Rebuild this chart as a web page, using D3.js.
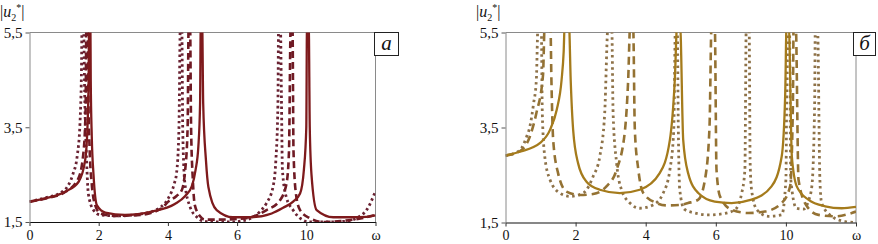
<!DOCTYPE html>
<html>
<head>
<meta charset="utf-8">
<script src="https://cdn.jsdelivr.net/npm/d3@7"></script>
<style>
  body { margin: 0; background: #fff; }
  svg { display: block; }
  svg text { font-family: "Liberation Serif", "Times New Roman", Times, "DejaVu Serif", serif; }
</style>
</head>
<body>
<div id="chart"></div>
<script>
// axis ticks (the 5th label reads "10" in the original)
const xTicks = [0, 2, 4, 6, 8, 10];
const xTickLabels = ['0', '2', '4', '6', '10', 'ω'];
const yTicks = [1.5, 3.5, 5.5];
const yTickLabels = ['1,5', '3,5', '5,5'];

// panel a series, [omega, |u2*|]
const aSolid = [[0,1.93],[0.45,2.0],[1.03,2.14],[1.42,2.35],[1.61,2.81],[1.68,3.6],[1.71,4.6],[1.72,5.7],[1.76,5.7],[1.77,4.5],[1.8,3.3],[1.85,2.5],[1.95,1.85],[2.19,1.7],[2.76,1.65],[3.53,1.72],[4.2,1.88],[4.5,2.05],[4.69,2.25],[4.8,2.6],[4.88,3.09],[4.93,4.0],[4.95,5.7],[4.99,5.7],[5.02,4.0],[5.1,2.8],[5.17,2.24],[5.41,1.75],[5.88,1.6],[6.4,1.6],[7.0,1.68],[7.33,1.8],[7.62,1.93],[7.82,2.1],[7.93,2.6],[8.0,3.5],[8.02,5.7],[8.07,5.7],[8.1,3.5],[8.15,2.5],[8.3,1.75],[8.78,1.6],[9.3,1.6],[9.74,1.61],[10,1.64]];
const aDashed = [[0,1.93],[0.5,2.0],[1.0,2.12],[1.4,2.4],[1.55,2.9],[1.62,3.8],[1.645,5.7],[1.68,5.7],[1.7,4.2],[1.74,3.0],[1.8,2.3],[1.9,1.85],[2.05,1.68],[2.5,1.63],[3.2,1.65],[3.8,1.78],[4.01,1.93],[4.25,2.05],[4.4,2.17],[4.5,2.6],[4.57,3.5],[4.6,5.7],[4.64,5.7],[4.67,3.5],[4.72,2.4],[4.78,1.85],[4.93,1.62],[5.07,1.55],[5.4,1.55],[5.9,1.56],[6.4,1.6],[6.85,1.75],[7.24,1.96],[7.43,2.32],[7.5,3.0],[7.55,5.7],[7.6,5.7],[7.63,3.0],[7.7,2.1],[7.82,1.75],[8.1,1.58],[8.5,1.5],[9.0,1.52],[9.6,1.58],[10,1.65]];
const aDotted = [[0,1.93],[0.5,2.02],[0.9,2.12],[1.1,2.25],[1.25,2.5],[1.38,2.9],[1.46,3.6],[1.5,4.6],[1.52,5.7],[1.56,5.7],[1.6,4.0],[1.65,2.8],[1.7,2.1],[1.85,1.75],[2.04,1.65],[2.6,1.63],[3.3,1.68],[3.8,1.82],[4.01,2.0],[4.18,2.3],[4.25,2.53],[4.32,3.5],[4.36,5.7],[4.4,5.7],[4.43,3.4],[4.49,2.32],[4.64,1.82],[4.83,1.61],[5.02,1.52],[5.3,1.5],[5.8,1.5],[6.3,1.55],[6.66,1.72],[6.85,1.9],[7.04,2.25],[7.12,2.8],[7.18,4.0],[7.2,5.7],[7.25,5.7],[7.28,4.2],[7.31,2.6],[7.42,2.03],[7.62,1.75],[7.82,1.58],[8.1,1.5],[8.6,1.5],[9.2,1.52],[9.5,1.6],[9.74,1.75],[10,2.15]];

// panel b series
const bSolid = [[0,2.91],[0.41,2.99],[0.98,3.17],[1.27,3.45],[1.46,3.87],[1.6,4.5],[1.66,5.1],[1.69,5.7],[1.81,5.7],[1.86,4.5],[1.93,3.45],[2.07,2.75],[2.31,2.36],[2.69,2.19],[3.26,2.12],[3.83,2.19],[4.4,2.54],[4.69,3.24],[4.83,4.5],[4.9,5.7],[4.98,5.7],[5.07,3.24],[5.21,2.54],[5.5,2.12],[5.97,1.94],[6.45,1.91],[7.02,1.98],[7.59,2.26],[7.88,2.89],[7.98,4.2],[8.02,5.7],[8.08,5.7],[8.17,2.89],[8.31,2.26],[8.64,1.98],[9.12,1.84],[9.59,1.8],[10,1.83]];
const bDashed = [[0,2.91],[0.41,3.0],[0.69,3.3],[0.88,3.8],[1.07,4.6],[1.12,5.7],[1.28,5.7],[1.31,4.5],[1.36,3.24],[1.5,2.54],[1.74,2.15],[2.12,2.08],[2.5,2.1],[2.88,2.26],[3.17,2.61],[3.41,3.45],[3.5,4.5],[3.56,5.7],[3.64,5.7],[3.69,3.45],[3.79,2.61],[3.93,2.12],[4.31,1.91],[4.6,1.86],[4.98,1.87],[5.21,1.91],[5.5,1.98],[5.69,2.4],[5.82,3.5],[5.88,5.7],[5.97,5.7],[6.02,2.61],[6.12,2.05],[6.45,1.77],[6.92,1.7],[7.4,1.73],[7.88,1.91],[8.12,2.26],[8.2,4.0],[8.22,5.7],[8.28,5.7],[8.36,2.4],[8.6,1.84],[8.93,1.66],[9.4,1.63],[9.88,1.7],[10,1.73]];
const bDotted = [[0,2.91],[0.41,3.02],[0.6,3.3],[0.69,3.5],[0.8,4.0],[0.88,4.5],[0.93,5.7],[1.02,5.7],[1.05,3.8],[1.12,2.89],[1.27,2.4],[1.55,2.12],[1.84,2.05],[2.22,2.12],[2.5,2.47],[2.69,2.89],[2.83,3.8],[2.93,5.7],[3.03,5.7],[3.07,3.8],[3.17,2.75],[3.31,2.19],[3.55,1.91],[3.83,1.8],[4.21,1.87],[4.5,2.12],[4.69,2.61],[4.8,3.45],[4.85,5.7],[4.9,5.7],[4.93,3.5],[4.97,2.2],[5.1,1.78],[5.4,1.7],[5.78,1.66],[6.17,1.68],[6.55,1.77],[6.74,2.12],[6.83,2.61],[6.87,5.7],[6.95,5.7],[6.98,2.75],[7.02,2.19],[7.17,1.77],[7.5,1.63],[7.88,1.66],[8.0,2.4],[8.04,5.7],[8.1,5.7],[8.14,2.4],[8.3,1.8],[8.5,1.78],[8.64,1.95],[8.74,2.26],[8.82,4.0],[8.84,5.7],[8.9,5.7],[8.97,2.4],[9.02,1.91],[9.31,1.63],[9.69,1.52],[10,1.5]];

const serif = '"Liberation Serif", "Times New Roman", Times, "DejaVu Serif", serif';

class Panel {

    constructor(opts) {
        this.svg = opts.svg;
        this.id = opts.id;
        this.box = opts.box;        // plot area in px
        this.letter = opts.letter;
        this.series = opts.series;
        this.labelX = opts.labelX;
        this.draw();
    }

    draw() {
        const b = this.box;
        this.x = d3.scaleLinear().domain([0, 10]).range([b.left, b.right]);
        this.y = d3.scaleLinear().domain([1.5, 5.5]).range([b.bottom, b.top]);

        this.svg.append('clipPath').attr('id', 'clip-' + this.id)
            .append('rect')
            .attr('x', b.left).attr('y', b.top)
            .attr('width', b.right - b.left).attr('height', b.bottom - b.top);

        this.addFrame();
        this.addLines();
        this.addAxes();
        this.addLabels();
    }

    addFrame() {
        const b = this.box;
        // top and right border, grey
        this.svg.append('line')
            .attr('x1', b.left).attr('x2', b.right).attr('y1', b.top).attr('y2', b.top)
            .attr('stroke', '#8a8a8a').attr('stroke-width', 1);
        this.svg.append('line')
            .attr('x1', b.right).attr('x2', b.right).attr('y1', b.top).attr('y2', b.bottom)
            .attr('stroke', '#8a8a8a').attr('stroke-width', 1);
    }

    addLines() {
        const that = this;
        const line = d3.line()
            .x(d => that.x(d[0]))
            .y(d => that.y(d[1]))
            .curve(d3.curveMonotoneX);

        const g = this.svg.append('g').attr('clip-path', `url(#clip-${this.id})`);
        this.series.forEach(s => {
            g.append('path')
                .datum(s.data)
                .attr('d', line)
                .attr('fill', 'none')
                .attr('stroke', s.color)
                .attr('stroke-width', s.width)
                .attr('stroke-dasharray', s.dash)
                .attr('stroke-linecap', 'butt');
        });
    }

    addAxes() {
        const b = this.box;
        const xAxis = this.svg.append('g')
            .attr('transform', `translate(0,${b.bottom})`)
            .call(d3.axisBottom(this.x)
                .tickValues(xTicks)
                .tickFormat((d, i) => xTickLabels[i])
                .tickSize(4)
                .tickPadding(4)
                .tickSizeOuter(0));
        xAxis.attr('font-family', serif).attr('font-size', 14);
        xAxis.select('.domain').attr('stroke', '#111').attr('stroke-width', 1.2);
        xAxis.selectAll('.tick line').attr('stroke', '#333');
        xAxis.selectAll('.tick text').attr('fill', '#111');

        const yAxis = this.svg.append('g')
            .attr('transform', `translate(${b.left},0)`)
            .call(d3.axisLeft(this.y)
                .tickValues(yTicks)
                .tickFormat((d, i) => yTickLabels[i])
                .tickSize(4)
                .tickPadding(3)
                .tickSizeOuter(0));
        yAxis.attr('font-family', serif).attr('font-size', 15);
        yAxis.select('.domain').attr('stroke', '#8a8a8a');
        yAxis.selectAll('.tick line').attr('stroke', '#555');
        yAxis.selectAll('.tick text').attr('fill', '#111');
    }

    addLabels() {
        const b = this.box;
        // y label |u2*|
        const t = this.svg.append('text')
            .attr('x', this.labelX)
            .attr('y', 17)
            .attr('font-family', serif)
            .style('font-size', '16px')
            .attr('fill', '#111');
        t.append('tspan').text('|');
        t.append('tspan').text('u').style('font-style', 'italic');
        t.append('tspan').text('2').attr('dy', 4).style('font-size', '10px');
        t.append('tspan').text('*').attr('dy', -10).style('font-size', '10px');
        t.append('tspan').text('|').attr('dy', 6);

        // letter box
        const w = this.letter.w, h = 23;
        const bx = this.letter.x;
        this.svg.append('rect')
            .attr('x', bx).attr('y', b.top)
            .attr('width', w).attr('height', h)
            .attr('fill', '#fff')
            .attr('stroke', '#222').attr('stroke-width', 1);
        this.svg.append('text')
            .attr('x', bx + w / 2).attr('y', b.top + 17)
            .attr('text-anchor', 'middle')
            .attr('font-family', serif)
            .style('font-size', '21px')
            .style('font-style', 'italic')
            .attr('fill', '#111')
            .text(this.letter.text);
    }
}

const svg = d3.select('#chart').append('svg')
    .attr('width', 878)
    .attr('height', 244);

const redSolid = '#7e1a1c', redDash = '#6f1a24', redDot = '#6a2232';
const goldSolid = '#a57b1c', goldDash = '#947233', goldDot = '#8e7248';

new Panel({
    svg: svg, id: 'a',
    box: { left: 29.5, right: 375.5, top: 32.5, bottom: 222 },
    letter: { x: 374.5, w: 24, text: 'а' },
    labelX: 0,
    series: [
        { data: aDotted, color: redDot, width: 2.8, dash: '2.5,3' },
        { data: aDashed, color: redDash, width: 2.6, dash: '7,4' },
        { data: aSolid, color: redSolid, width: 2.3, dash: null }
    ]
});

new Panel({
    svg: svg, id: 'b',
    box: { left: 505.5, right: 856, top: 32.5, bottom: 222.5 },
    letter: { x: 853.5, w: 22, text: 'б' },
    labelX: 476,
    series: [
        { data: bDotted, color: goldDot, width: 2.8, dash: '2.5,3.5' },
        { data: bDashed, color: goldDash, width: 2.6, dash: '8,5' },
        { data: bSolid, color: goldSolid, width: 2.3, dash: null }
    ]
});
</script>
</body>
</html>
